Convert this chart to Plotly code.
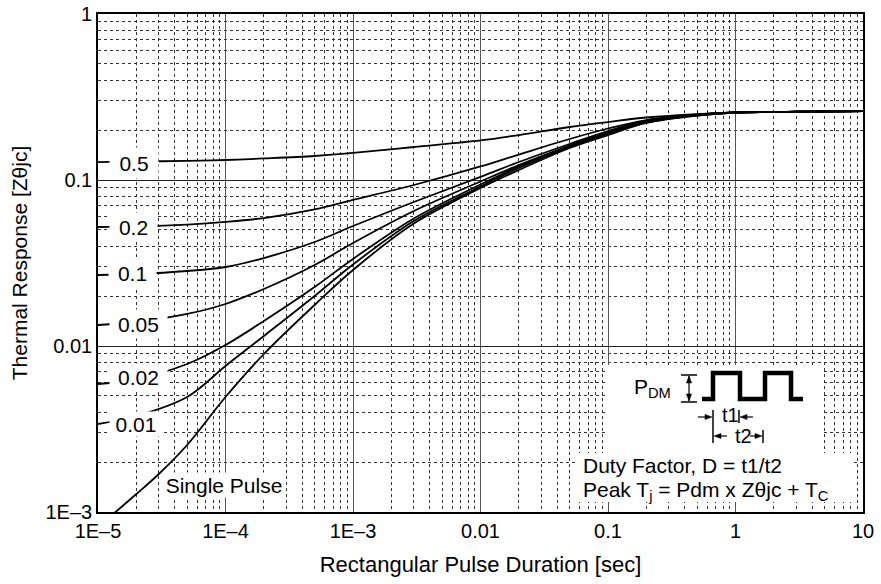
import plotly.graph_objects as go

# ---------------- data ----------------
duration = [1e-5, 2e-5, 5e-5, 1e-4, 2e-4, 5e-4, 1e-3, 3e-3, 1e-2, 2e-2, 5e-2,
            0.1, 0.2, 0.5, 1, 2, 5, 10]
z_d050 = [0.1283, 0.1293, 0.1302, 0.1320, 0.1348, 0.1395, 0.1455, 0.1580, 0.1730,
          0.1866, 0.2086, 0.2235, 0.2379, 0.2497, 0.2550, 0.2567, 0.2586, 0.2604]
z_d020 = [0.0521, 0.0525, 0.0539, 0.0559, 0.0590, 0.0665, 0.0758, 0.0933, 0.1207,
          0.1424, 0.1766, 0.2043, 0.2298, 0.2480, 0.2550, 0.2567, 0.2586, 0.2604]
z_d010 = [0.02677, 0.02714, 0.02830, 0.02991, 0.03389, 0.04231, 0.05284, 0.07369,
          0.1043, 0.1284, 0.1648, 0.1973, 0.2267, 0.2464, 0.2550, 0.2567, 0.2586, 0.2604]
z_d005 = [0.01338, 0.01395, 0.01559, 0.01791, 0.02205, 0.03076, 0.04173, 0.06505,
          0.09795, 0.1231, 0.1614, 0.1946, 0.2251, 0.2464, 0.2550, 0.2567, 0.2586, 0.2604]
z_d002 = [0.005904, 0.006326, 0.007788, 0.01014, 0.01415, 0.02266, 0.03343, 0.05862,
          0.09396, 0.1207, 0.1592, 0.1919, 0.2235, 0.2464, 0.2550, 0.2567, 0.2586, 0.2604]
z_d001 = [0.003390, 0.003787, 0.004930, 0.007577, 0.01149, 0.02001, 0.03097, 0.05662,
          0.09138, 0.1181, 0.1570, 0.1893, 0.2220, 0.2446, 0.2550, 0.2567, 0.2586, 0.2604]
pulse_duration = [1e-5, 2e-5, 3e-5, 5e-5, 1e-4, 2e-4, 5e-4, 1e-3, 3e-3, 1e-2, 2e-2,
                  5e-2, 0.1, 0.2, 0.5, 1, 2, 5, 10]
z_single = [0.000812, 0.001283, 0.001694, 0.002533, 0.004930, 0.008950, 0.01766,
            0.02870, 0.05470, 0.08950, 0.1149, 0.1559, 0.1866, 0.2205, 0.2446,
            0.2550, 0.2567, 0.2586, 0.2604]

curve_labels = ["0.5", "0.2", "0.1", "0.05", "0.02", "0.01", "Single Pulse"]

x_tickvals = [1e-5, 1e-4, 1e-3, 1e-2, 1e-1, 1, 10]
x_ticktext = ["1E\u20135", "1E\u20134", "1E\u20133", "0.01", "0.1", "1", "10"]
y_tickvals = [1e-3, 1e-2, 1e-1, 1]
y_ticktext = ["1E\u20133", "0.01", "0.1", "1"]

# ---------------- geometry helpers ----------------
W, H = 881, 584
ML, MR, MT, MB = 98, 18, 14, 72
PW, PH = W - ML - MR, H - MT - MB
FONT = "Liberation Sans, Arial, Helvetica, sans-serif"


def fx(px):  # screen px -> paper fraction
    return (px - ML) / PW


def fy(py):
    return (MT + PH - py) / PH


def path(points, close=False):
    s = "M " + " L ".join(f"{fx(a):.5f},{fy(b):.5f}" for a, b in points)
    return s + (" Z" if close else "")


fig = go.Figure()
series = [(duration, z_d050), (duration, z_d020), (duration, z_d010),
          (duration, z_d005), (duration, z_d002), (duration, z_d001),
          (pulse_duration, z_single)]
for (xs, ys), name in zip(series, curve_labels):
    fig.add_trace(go.Scatter(x=xs, y=ys, mode="lines", name=name,
                             line=dict(color="black", width=1.8, shape="spline",
                                       smoothing=1.0),
                             showlegend=False, hoverinfo="skip"))

minor_x = [m * 10 ** e for e in range(-5, 1) for m in range(2, 10)]
minor_y = [m * 10 ** e for e in range(-3, 0) for m in range(2, 10)]

fig.update_layout(
    width=W, height=H,
    margin=dict(l=ML, r=MR, t=MT, b=MB, pad=0),
    paper_bgcolor="white", plot_bgcolor="white",
    font=dict(family=FONT, color="black", size=20),
    xaxis=dict(type="log", range=[-5, 1], tickmode="array", automargin=False,
               tickvals=x_tickvals, ticktext=x_ticktext, ticks="",
               ticklabeloverflow="allow",
               showline=True, linecolor="black", linewidth=1.6, mirror=True,
               showgrid=True, gridcolor="#555", gridwidth=1.4,
               minor=dict(tickvals=minor_x, showgrid=True, gridcolor="#333",
                          griddash="dot", gridwidth=1, ticks=""),
               tickfont=dict(size=20), zeroline=False,
               title=dict(text="Rectangular Pulse Duration [sec]",
                          font=dict(size=22), standoff=16)),
    yaxis=dict(type="log", range=[-3, 0], tickmode="array", automargin=False,
               tickvals=y_tickvals, ticktext=y_ticktext, ticks="",
               ticklabeloverflow="allow",
               showline=True, linecolor="black", linewidth=1.6, mirror=True,
               showgrid=True, gridcolor="#222", gridwidth=1.2,
               minor=dict(tickvals=minor_y, showgrid=True, gridcolor="#333",
                          griddash="dot", gridwidth=1, ticks=""),
               tickfont=dict(size=20), zeroline=False,
               title=dict(text="Thermal Response [Z\u03b8jc]",
                          font=dict(size=21), standoff=12)),
)

# ---------------- curve labels (white boxes) ----------------
label_pos = [  # (center px x, center px y, box w, box h) in screen px
    (134, 163, 48, 30),
    (133, 227, 47, 28),
    (132, 273, 47, 28),
    (138, 324, 57, 28),
    (138, 377, 57, 26),
    (136, 424, 52, 24),
    (224, 485, 122, 24),
]
for text, (cx, cy, bw, bh) in zip(curve_labels, label_pos):
    fig.add_annotation(xref="paper", yref="paper", x=fx(cx), y=fy(cy),
                       text=text, showarrow=False, xanchor="center",
                       yanchor="middle", bgcolor="white", borderpad=0,
                       width=bw, height=bh, font=dict(size=21))

# ---------------- inset ----------------
shapes = []
for (x0, y0, x1, y1) in [(605, 365, 823, 453), (577, 453, 853, 502)]:
    shapes.append(dict(type="rect", xref="paper", yref="paper", layer="above",
                       x0=fx(x0), x1=fx(x1), y0=fy(y1), y1=fy(y0),
                       fillcolor="white", line=dict(width=0)))


def seg(p, q, w=1.5):
    shapes.append(dict(type="path", xref="paper", yref="paper", layer="above",
                       path=path([p, q]), line=dict(color="black", width=w)))


def head(tip, d, ln=7, hw=2.6):
    tx, ty = tip
    if d == "r":
        pts = [(tx, ty), (tx - ln, ty - hw), (tx - ln, ty + hw)]
    elif d == "l":
        pts = [(tx, ty), (tx + ln, ty - hw), (tx + ln, ty + hw)]
    elif d == "u":
        pts = [(tx, ty), (tx - hw, ty + ln), (tx + hw, ty + ln)]
    else:
        pts = [(tx, ty), (tx - hw, ty - ln), (tx + hw, ty - ln)]
    shapes.append(dict(type="path", xref="paper", yref="paper", layer="above",
                       path=path(pts, close=True), fillcolor="black",
                       line=dict(color="black", width=0.5)))


# pulse waveform
shapes.append(dict(type="path", xref="paper", yref="paper", layer="above",
                   path=path([(702, 399), (713, 399), (713, 373), (740, 373),
                              (740, 399), (765, 399), (765, 373), (791, 373),
                              (791, 399), (803, 399)]),
                   line=dict(color="black", width=4.5)))
# P_DM dimension
seg((681, 375), (697, 375))
seg((681, 402), (697, 402))
seg((689, 376), (689, 401), 1.2)
head((689, 376), "u")
head((689, 401), "d")
# t1 / t2 dimension lines
seg((713, 410), (713, 443), 1.5)
seg((739, 410), (739, 423), 1.5)
seg((763, 430), (763, 443), 1.5)
seg((698, 417), (708, 417), 1.2)
head((712, 417), "r")
seg((744, 417), (753, 417), 1.2)
head((740, 417), "l")
seg((719, 436), (727, 436), 1.2)
head((714, 436), "l")
seg((750, 436), (757, 436), 1.2)
head((762, 436), "r")

fig.update_layout(shapes=shapes)

inset_text = [
    ("P<sub>DM</sub>", 672, 388, "right", 21),
    ("t1", 730, 415, "center", 20),
    ("t2", 743, 436, "center", 20),
    ("Duty Factor, D = t1/t2", 582, 465, "left", 21),
    ("Peak T<sub>j</sub> = Pdm x Z\u03b8jc + T<sub>C</sub>", 582, 491, "left", 21),
]
for text, x, y, anchor, size in inset_text:
    fig.add_annotation(xref="paper", yref="paper", x=fx(x), y=fy(y), text=text,
                       showarrow=False, xanchor=anchor, yanchor="middle",
                       font=dict(size=size), borderpad=0)

# remove the default 8px page margin so the figure fills the window exactly
fig.write_html("out.html",
               config={"displayModeBar": False},
               post_script="document.body.style.margin='0';"
                           "document.body.style.overflow='hidden';")
